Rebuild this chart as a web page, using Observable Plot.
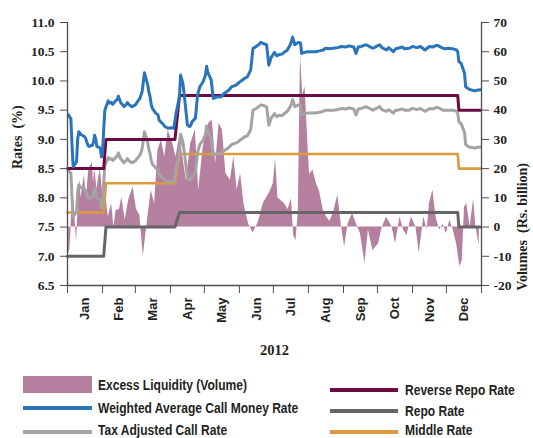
<!DOCTYPE html>
<html><head><meta charset="utf-8">
<script src="https://cdn.jsdelivr.net/npm/d3@7"></script>
<script src="https://cdn.jsdelivr.net/npm/@observablehq/plot@0.6"></script>
<style>
body{margin:0;background:#fff;}
#wrap{position:relative;width:533px;height:438px;overflow:hidden;background:#fff;}
#chart{position:absolute;left:0;top:0;}
.sw{position:absolute;}
.lt{position:absolute;font-family:"Liberation Sans",sans-serif;font-weight:bold;font-size:14px;line-height:14px;color:#231f20;white-space:nowrap;transform:scaleX(0.86);transform-origin:0 50%;}
</style></head><body>
<div id="wrap"><div id="chart"></div><div id="legend"></div></div>
<script>
// ---- data ----
const rateTicks = [6.5, 7.0, 7.5, 8.0, 8.5, 9.0, 9.5, 10.0, 10.5, 11.0];
const volTicks = [-20, -10, 0, 10, 20, 30, 40, 50, 60, 70];
const monthLabels = ["Jan","Feb","Mar","Apr","May","Jun","Jul","Aug","Sep","Oct","Nov","Dec"];
const yearLabel = "2012";

const policyDates = ["2012-01-01","2012-02-02","2012-02-04","2012-04-05","2012-04-09","2012-12-11","2012-12-12","2012-12-31"];
const reverseRepo = [8.5, 8.5, 9.0, 9.0, 9.75, 9.75, 9.5, 9.5];
const repo        = [7.0, 7.0, 7.5, 7.5, 7.75, 7.75, 7.5, 7.5];
const middle      = [7.75, 7.75, 8.25, 8.25, 8.75, 8.75, 8.5, 8.5];

const callDates = ["2012-01-02","2012-01-03","2012-01-04","2012-01-05","2012-01-06","2012-01-09","2012-01-10","2012-01-11","2012-01-13","2012-01-16","2012-01-17","2012-01-19","2012-01-20","2012-01-23","2012-01-24","2012-01-25","2012-01-26","2012-01-27","2012-01-30","2012-01-31",
"2012-02-01","2012-02-02","2012-02-03","2012-02-06","2012-02-07","2012-02-09","2012-02-10","2012-02-13","2012-02-14","2012-02-15","2012-02-17","2012-02-20","2012-02-22","2012-02-23","2012-02-24","2012-02-27","2012-02-28",
"2012-03-01","2012-03-02","2012-03-05","2012-03-06","2012-03-07","2012-03-09","2012-03-12","2012-03-13","2012-03-14","2012-03-15","2012-03-16","2012-03-19","2012-03-21","2012-03-22","2012-03-26","2012-03-27","2012-03-30",
"2012-04-02","2012-04-04","2012-04-06","2012-04-09","2012-04-10","2012-04-12","2012-04-13","2012-04-16","2012-04-18","2012-04-19","2012-04-20","2012-04-23","2012-04-24","2012-04-25","2012-04-27","2012-04-30",
"2012-05-02","2012-05-03","2012-05-04","2012-05-07","2012-05-08","2012-05-09","2012-05-11","2012-05-14","2012-05-16","2012-05-18","2012-05-21","2012-05-23","2012-05-25","2012-05-29","2012-05-31",
"2012-06-01","2012-06-04","2012-06-06","2012-06-08","2012-06-11","2012-06-13","2012-06-15","2012-06-18","2012-06-20","2012-06-22","2012-06-25","2012-06-26","2012-06-27","2012-06-29",
"2012-07-02","2012-07-04","2012-07-06","2012-07-09","2012-07-11","2012-07-13","2012-07-16","2012-07-17","2012-07-18","2012-07-20","2012-07-23","2012-07-25","2012-07-26","2012-07-27","2012-07-31",
"2012-08-03","2012-08-07","2012-08-10","2012-08-14","2012-08-16","2012-08-20","2012-08-23","2012-08-27","2012-08-30",
"2012-09-03","2012-09-06","2012-09-10","2012-09-12","2012-09-14","2012-09-17","2012-09-21","2012-09-25","2012-09-27",
"2012-10-01","2012-10-03","2012-10-05","2012-10-09","2012-10-11","2012-10-15","2012-10-17","2012-10-19","2012-10-23","2012-10-25","2012-10-29",
"2012-11-01","2012-11-05","2012-11-08","2012-11-12","2012-11-14","2012-11-16","2012-11-19","2012-11-21","2012-11-23","2012-11-26","2012-11-28","2012-11-30",
"2012-12-03","2012-12-05","2012-12-07","2012-12-10","2012-12-11","2012-12-12","2012-12-14","2012-12-17","2012-12-18","2012-12-20","2012-12-21","2012-12-24","2012-12-26","2012-12-28","2012-12-31"];

const callRate = [9.42,9.38,9.35,8.90,8.53,8.62,9.00,9.13,9.08,9.05,9.02,8.90,8.88,8.90,8.95,9.07,9.00,8.88,8.85,8.70,
8.78,9.16,9.50,9.66,9.62,9.63,9.60,9.67,9.68,9.74,9.63,9.56,9.60,9.63,9.60,9.56,9.57,
9.59,9.62,9.70,9.76,9.82,10.14,9.93,9.80,9.73,9.60,9.53,9.45,9.42,9.33,9.25,9.22,9.19,
9.20,9.19,9.45,9.73,10.10,9.96,9.80,9.25,9.22,9.24,9.30,9.36,9.55,9.76,9.90,9.99,
10.10,10.25,10.15,10.02,9.85,9.70,9.72,9.73,9.73,9.78,9.82,9.85,9.90,9.93,9.96,
9.98,10.02,10.05,10.07,10.19,10.56,10.58,10.62,10.66,10.64,10.62,10.45,10.27,10.40,
10.49,10.43,10.45,10.46,10.50,10.52,10.62,10.68,10.75,10.62,10.66,10.65,10.47,10.48,10.50,
10.50,10.50,10.51,10.53,10.56,10.55,10.56,10.57,10.59,
10.58,10.60,10.58,10.47,10.58,10.59,10.62,10.58,10.56,
10.60,10.62,10.57,10.53,10.57,10.50,10.55,10.56,10.58,10.55,10.56,
10.59,10.57,10.59,10.53,10.56,10.59,10.58,10.60,10.61,10.58,10.56,10.55,
10.56,10.55,10.55,10.53,10.50,10.33,10.30,10.13,9.90,9.87,9.86,9.84,9.83,9.84,9.85];

const taxAdjRate = [8.48,8.44,8.42,8.01,7.68,7.76,8.10,8.22,8.17,8.15,8.12,8.01,7.99,8.01,8.06,8.16,8.10,7.99,7.97,7.83,
7.90,8.24,8.55,8.69,8.66,8.67,8.64,8.70,8.71,8.77,8.67,8.60,8.64,8.67,8.64,8.60,8.61,
8.63,8.66,8.73,8.78,8.84,9.13,8.94,8.82,8.76,8.64,8.58,8.51,8.48,8.40,8.33,8.30,8.27,
8.28,8.27,8.51,8.76,9.09,8.96,8.82,8.33,8.30,8.32,8.37,8.42,8.60,8.78,8.91,8.99,
9.09,9.23,9.14,9.02,8.87,8.73,8.75,8.76,8.76,8.80,8.84,8.87,8.91,8.94,8.96,
8.98,9.02,9.05,9.06,9.17,9.50,9.52,9.56,9.59,9.58,9.56,9.41,9.24,9.36,
9.44,9.39,9.41,9.41,9.45,9.47,9.56,9.61,9.68,9.56,9.59,9.59,9.42,9.43,9.45,
9.45,9.45,9.46,9.48,9.50,9.50,9.50,9.51,9.53,
9.52,9.54,9.52,9.42,9.52,9.53,9.56,9.52,9.50,
9.54,9.56,9.51,9.48,9.51,9.45,9.50,9.50,9.52,9.50,9.50,
9.53,9.51,9.53,9.48,9.50,9.53,9.52,9.54,9.55,9.52,9.50,9.50,
9.50,9.50,9.50,9.48,9.45,9.30,9.27,9.12,8.91,8.88,8.87,8.86,8.85,8.86,8.87];

const liqDates = ["2012-01-02","2012-01-03","2012-01-04","2012-01-05","2012-01-06","2012-01-09","2012-01-10","2012-01-11","2012-01-12","2012-01-13","2012-01-16","2012-01-17","2012-01-18","2012-01-19","2012-01-20","2012-01-23","2012-01-24","2012-01-25","2012-01-26","2012-01-27","2012-01-30","2012-01-31",
"2012-02-01","2012-02-03","2012-02-06","2012-02-09","2012-02-11","2012-02-13","2012-02-16","2012-02-18","2012-02-21","2012-02-24","2012-02-28",
"2012-03-02","2012-03-05","2012-03-08","2012-03-11","2012-03-15","2012-03-18","2012-03-21","2012-03-24","2012-03-27","2012-03-30",
"2012-04-03","2012-04-06","2012-04-09","2012-04-12","2012-04-15","2012-04-19","2012-04-23","2012-04-26","2012-04-30",
"2012-05-05","2012-05-08","2012-05-11","2012-05-14","2012-05-17","2012-05-20","2012-05-24","2012-05-27","2012-05-30",
"2012-06-02","2012-06-05","2012-06-09","2012-06-13","2012-06-17","2012-06-19","2012-06-22","2012-06-25","2012-06-28",
"2012-07-01","2012-07-03","2012-07-05","2012-07-08","2012-07-11","2012-07-14","2012-07-17","2012-07-19","2012-07-21","2012-07-23","2012-07-25","2012-07-27","2012-07-29",
"2012-08-01","2012-08-02","2012-08-05","2012-08-08","2012-08-11","2012-08-14","2012-08-17","2012-08-20","2012-08-23","2012-08-27","2012-08-30",
"2012-09-02","2012-09-05","2012-09-09","2012-09-13","2012-09-16","2012-09-20","2012-09-23","2012-09-27",
"2012-10-02","2012-10-05","2012-10-09","2012-10-14","2012-10-17","2012-10-21","2012-10-24","2012-10-27","2012-10-31",
"2012-11-04","2012-11-07","2012-11-11","2012-11-14","2012-11-16","2012-11-19","2012-11-22","2012-11-25","2012-11-28",
"2012-12-01","2012-12-04","2012-12-07","2012-12-10","2012-12-13","2012-12-15","2012-12-17","2012-12-19","2012-12-22","2012-12-25","2012-12-27","2012-12-30"];

const liqVolume = [-9,-8,-2,10,12,-5,3,14,16,10,18,13,11,16,20,22,15,20,17,13,20,16,
12,13.7,3.4,8,0,5.7,6,10.3,2.3,9.2,13.7,
6,4,-10,0,12.6,8,26.3,29.8,24,33.2,
28.6,24,30.9,24,16,28.6,33.2,12.6,27.5,
35.5,36.6,21.8,35.5,33.2,18.3,16,24,12.6,
18.3,8,1.2,-2,1,3.4,8,10,12,
15,23.5,10,9,8,6,9.7,-3,-4.6,5,59,45,48,
25,18,19.5,15,12,6,3.4,2,4.6,11,1,
-6.8,1,4.6,0.5,-2.3,-12.5,-1,-8,
-5.7,-0.5,3.4,0,-5.7,3.4,-1,-3,3.4,
0,-9,3.4,-1,8,12.6,3,-1,1,
-2.3,2.3,-1,-5.7,-13.7,-11.4,6.9,8,0,9.7,0,-6.3];

const legendNames = ["Excess Liquidity (Volume)","Weighted Average Call Money Rate","Tax Adjusted Call Rate","Reverse Repo Rate","Repo Rate","Middle Rate"];
const colors = {liq:"#b57fa0", wacmr:"#2a74bb", tax:"#a3a3a3", rr:"#6b0b46", repo:"#656565", mid:"#dc9a3c"};

// ---- build ----
const parse = d3.utcParse("%Y-%m-%d");
const call = callDates.map((d,i)=>({date:parse(d), wacmr:callRate[i], tax:taxAdjRate[i]}));
const policy = policyDates.map((d,i)=>({date:parse(d), rr:reverseRepo[i], repo:repo[i], mid:middle[i]}));
const liq = liqDates.map((d,i)=>({date:parse(d), v:liqVolume[i]}));
const toRate = v => 7.5 + v/20;       // secondary axis: 0 bn = 7.5 %, 10 bn = 0.5 %
const toVol = r => Math.round((r - 7.5) * 20);

const x0 = new Date(Date.UTC(2012,0,1)), x1 = new Date(Date.UTC(2013,0,1));
const monthStarts = d3.utcMonth.range(x0, d3.utcDay.offset(x1,1));
const monthMids = monthStarts.slice(0,12).map(d => new Date((+d + +d3.utcMonth.offset(d,1))/2));

const serif = "'Liberation Serif', serif";
const sans = "'Liberation Sans',sans-serif";
const axisCol = "#4d4d4d";

const chart = Plot.plot({
  width: 533, height: 365,
  marginTop: 22, marginBottom: 80, marginLeft: 67, marginRight: 52,
  x: {type: "utc", domain: [x0, x1]},
  y: {domain: [6.5, 11]},
  style: {color: "#231f20", background: "transparent"},
  marks: [
    Plot.areaY(liq, {x: "date", y1: () => toRate(0), y2: d => toRate(d.v), fill: colors.liq}),
    Plot.lineY(policy, {x: "date", y: "repo", stroke: colors.repo, strokeWidth: 3}),
    Plot.lineY(policy, {x: "date", y: "mid", stroke: colors.mid, strokeWidth: 2.6}),
    Plot.lineY(call, {x: "date", y: "tax", stroke: colors.tax, strokeWidth: 3}),
    Plot.lineY(policy, {x: "date", y: "rr", stroke: colors.rr, strokeWidth: 3}),
    Plot.lineY(call, {x: "date", y: "wacmr", stroke: colors.wacmr, strokeWidth: 3}),
    Plot.ruleX([x0], {stroke: axisCol, strokeWidth: 1.3}),
    Plot.ruleX([x1], {stroke: axisCol, strokeWidth: 1.3}),
    Plot.ruleY([6.5], {stroke: axisCol, strokeWidth: 1.3}),
    Plot.axisY(rateTicks, {anchor: "left", tickSize: 7, tickPadding: 6, stroke: axisCol,
      tickFormat: d3.format(".1f"), label: null, fontFamily: serif, fontWeight: "bold", fontSize: 13.5}),
    Plot.axisY(volTicks.map(toRate), {anchor: "right", tickSize: 7, tickPadding: 5, stroke: axisCol,
      tickFormat: r => String(toVol(r)), label: null, fontFamily: serif, fontWeight: "bold", fontSize: 13.5}),
    Plot.axisX(monthStarts, {anchor: "bottom", tickSize: 8, stroke: axisCol, tickFormat: () => "", label: null}),
    Plot.axisX(monthMids, {anchor: "bottom", tickSize: 0, tickPadding: 12, tickRotate: -90,
      tickFormat: d => monthLabels[d.getUTCMonth()], label: null, fontFamily: sans, fontWeight: "bold", fontSize: 13}),
    Plot.text([yearLabel], {frameAnchor: "bottom", dy: 69, fontFamily: serif, fontWeight: "bold", fontSize: 14.5}),
    Plot.text(["Rates  (%)"], {frameAnchor: "left", dx: -50, dy: 15, rotate: -90, fontFamily: serif, fontWeight: "bold", fontSize: 14}),
    Plot.text(["Volumes  (Rs. billion)"], {frameAnchor: "right", dx: 41, dy: 9, rotate: -90, fontFamily: serif, fontWeight: "bold", fontSize: 14})
  ]
});
document.getElementById("chart").append(chart);

// ---- legend ----
const legend = document.getElementById("legend");
const items = [
  {name: legendNames[0], color: colors.liq,   sx: 23,  sw: 69, top: 376, h: 17, tx: 98,  ty: 378},
  {name: legendNames[1], color: colors.wacmr, sx: 23,  sw: 69, top: 406, h: 4,  tx: 98,  ty: 401},
  {name: legendNames[2], color: colors.tax,   sx: 23,  sw: 69, top: 430, h: 4,  tx: 98,  ty: 423},
  {name: legendNames[3], color: colors.rr,    sx: 330, sw: 68, top: 388, h: 4,  tx: 405, ty: 383},
  {name: legendNames[4], color: colors.repo,  sx: 330, sw: 68, top: 409, h: 4,  tx: 405, ty: 404},
  {name: legendNames[5], color: colors.mid,   sx: 330, sw: 68, top: 430, h: 4,  tx: 405, ty: 423}
];
for (const it of items) {
  const s = document.createElement("div");
  s.className = "sw";
  Object.assign(s.style, {left: it.sx+"px", top: it.top+"px", width: it.sw+"px", height: it.h+"px", background: it.color});
  legend.append(s);
  const t = document.createElement("div");
  t.className = "lt";
  Object.assign(t.style, {left: it.tx+"px", top: it.ty+"px"});
  t.textContent = it.name;
  legend.append(t);
}
</script>
</body></html>
